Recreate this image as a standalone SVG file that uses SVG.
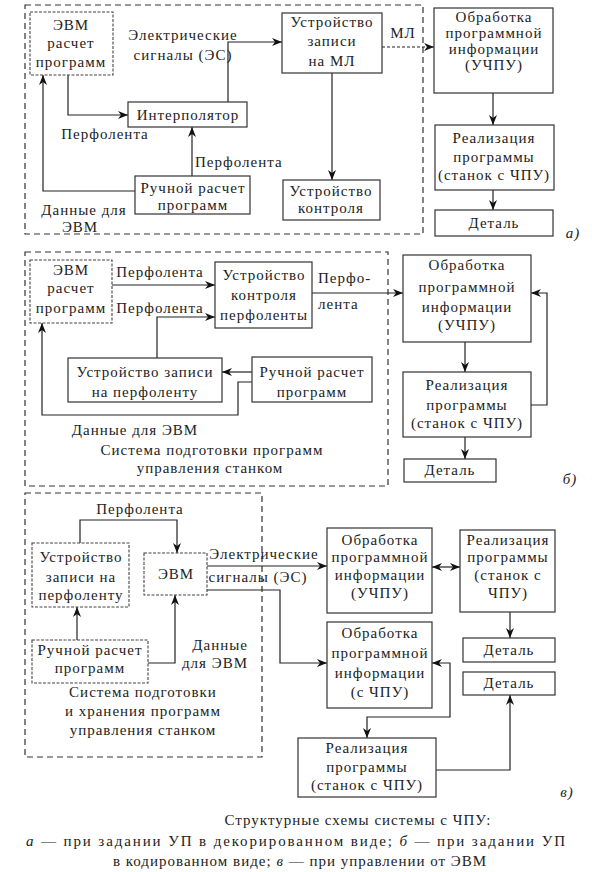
<svg xmlns="http://www.w3.org/2000/svg" width="592" height="872" viewBox="0 0 592 872">
<style>
.box{fill:#fff;stroke:#333;stroke-width:1.2}
.dbox{fill:#fff;stroke:#444;stroke-width:1.1;stroke-dasharray:3 1.5}
.frame{fill:none;stroke:#333;stroke-width:1.2;stroke-dasharray:6 4}
.ln{fill:none;stroke:#222;stroke-width:1.2}
.dt{stroke-dasharray:3 2}
.a{marker-end:url(#ah)}
.b{marker-start:url(#ah);marker-end:url(#ah)}
text{font-family:"Liberation Serif","DejaVu Serif","Times New Roman",serif;font-size:15px;fill:#222;letter-spacing:1px}
.c{text-anchor:middle}
.e{text-anchor:end}
.i{font-style:italic}
</style>
<defs>
<marker id="ah" viewBox="0 0 10 8" refX="10" refY="4" markerWidth="11" markerHeight="8" orient="auto-start-reverse" markerUnits="userSpaceOnUse"><path d="M0,0 L10,4 L0,8 L3,4 z" fill="#111"/></marker>
</defs>
<rect width="592" height="872" fill="#fff"/>

<g id="frames">
<rect class="frame" x="25" y="5" width="398" height="229"/>
<rect class="frame" x="25" y="252" width="363" height="234"/>
<rect class="frame" x="25" y="493" width="237" height="264"/>
</g>

<g id="connectors">
<path class="ln a" d="M68,75 V115 H128"/>
<path class="ln a" d="M228,102 V42 H282"/>
<path class="ln a dt" d="M382,47 H434"/>
<path class="ln a" d="M332,73 V180"/>
<path class="ln a" d="M493,93 V125"/>
<path class="ln a" d="M493,190 V210"/>
<path class="ln a" d="M192,176 V127"/>
<path class="ln a" d="M135,191 H43 V75"/>

<path class="ln a" d="M112,285 H215"/>
<path class="ln a" d="M157,358 V317 H215"/>
<path class="ln a" d="M312,293 H403"/>
<path class="ln a" d="M465,342 V372"/>
<path class="ln a" d="M531,405 H547 V293 H531"/>
<path class="ln a" d="M465,437 V459"/>
<path class="ln a" d="M252,372 H222"/>
<path class="ln a" d="M252,382 H238 V415 H42 V323"/>

<path class="ln a" d="M80,543 V520 H177 V553"/>
<path class="ln a" d="M207,566 H327"/>
<path class="ln a" d="M207,590 H280 V663 H327"/>
<path class="ln b" d="M432,567 H460"/>
<path class="ln a" d="M510,612 V638"/>
<path class="ln b" d="M432,663 H450 V717 H367 V738"/>
<path class="ln a" d="M436,770 H510 V695"/>
<path class="ln a" d="M77,640 V607"/>
<path class="ln a" d="M148,663 H175 V595"/>
</g>

<g id="labels">
<text class="c" x="183" y="40">Электрические</text>
<text class="c" x="183" y="60">сигналы (ЭС)</text>
<text class="c" x="403" y="38">МЛ</text>
<text class="c" x="105" y="139">Перфолента</text>
<text x="195" y="167">Перфолента</text>
<text class="c" x="84" y="215">Данные для</text>
<text class="c" x="80" y="232">ЭВМ</text>
<text class="c i" x="573" y="238">а)</text>

<text class="c" x="160" y="277">Перфолента</text>
<text class="c" x="160" y="313">Перфолента</text>
<text x="318" y="283">Перфо-</text>
<text x="318" y="309">лента</text>
<text class="c" x="135" y="435">Данные для ЭВМ</text>
<text class="c" x="212" y="455">Система подготовки программ</text>
<text class="c" x="210" y="473">управления станком</text>
<text class="c i" x="570" y="484">б)</text>

<text class="c" x="140" y="514">Перфолента</text>
<text class="c" x="264" y="559">Электрические</text>
<text class="c" x="258" y="582">сигналы (ЭС)</text>
<text class="e" x="248" y="650">Данные</text>
<text class="e" x="248" y="668">для ЭВМ</text>
<text class="c" x="143" y="697">Система подготовки</text>
<text class="c" x="143" y="716">и хранения программ</text>
<text class="c" x="143" y="735">управления станком</text>
<text class="c i" x="567" y="797">в)</text>
</g>

<g id="nodes">
<g id="a_evm"><rect class="dbox" x="30" y="12" width="83" height="63"/>
<text class="c" x="71" y="30">ЭВМ</text><text class="c" x="71" y="48">расчет</text><text class="c" x="71" y="67">программ</text></g>
<g id="a_interp"><rect class="box" x="128" y="102" width="119" height="25"/>
<text class="c" x="188" y="120">Интерполятор</text></g>
<g id="a_zap"><rect class="box" x="282" y="13" width="100" height="60"/>
<text class="c" x="332" y="27">Устройство</text><text class="c" x="332" y="46">записи</text><text class="c" x="332" y="66">на МЛ</text></g>
<g id="a_obr"><rect class="box" x="434" y="8" width="119" height="85"/>
<text class="c" x="494" y="22">Обработка</text><text class="c" x="494" y="38">программной</text><text class="c" x="494" y="54">информации</text><text class="c" x="494" y="70">(УЧПУ)</text></g>
<g id="a_real"><rect class="box" x="435" y="125" width="119" height="65"/>
<text class="c" x="494" y="143">Реализация</text><text class="c" x="494" y="162">программы</text><text class="c" x="494" y="180">(станок с ЧПУ)</text></g>
<g id="a_det"><rect class="box" x="435" y="210" width="118" height="26"/>
<text class="c" x="494" y="228">Деталь</text></g>
<g id="a_ctrl"><rect class="box" x="283" y="180" width="97" height="40"/>
<text class="c" x="331" y="196">Устройство</text><text class="c" x="331" y="213">контроля</text></g>
<g id="a_ruch"><rect class="box" x="135" y="176" width="115" height="38"/>
<text class="c" x="193" y="193">Ручной расчет</text><text class="c" x="193" y="210">программ</text></g>

<g id="b_evm"><rect class="dbox" x="30" y="260" width="82" height="63"/>
<text class="c" x="71" y="275">ЭВМ</text><text class="c" x="71" y="293">расчет</text><text class="c" x="71" y="313">программ</text></g>
<g id="b_ctrl"><rect class="box" x="215" y="262" width="97" height="66"/>
<text class="c" x="264" y="280">Устройство</text><text class="c" x="264" y="300">контроля</text><text class="c" x="264" y="320">перфоленты</text></g>
<g id="b_obr"><rect class="box" x="403" y="255" width="128" height="87"/>
<text class="c" x="467" y="270">Обработка</text><text class="c" x="467" y="292">программной</text><text class="c" x="467" y="312">информации</text><text class="c" x="467" y="330">(УЧПУ)</text></g>
<g id="b_real"><rect class="box" x="403" y="372" width="128" height="65"/>
<text class="c" x="467" y="390">Реализация</text><text class="c" x="467" y="410">программы</text><text class="c" x="467" y="428">(станок с ЧПУ)</text></g>
<g id="b_det"><rect class="box" x="404" y="459" width="92" height="23"/>
<text class="c" x="450" y="475">Деталь</text></g>
<g id="b_zap"><rect class="box" x="68" y="358" width="154" height="44"/>
<text class="c" x="145" y="377">Устройство записи</text><text class="c" x="145" y="397">на перфоленту</text></g>
<g id="b_ruch"><rect class="box" x="252" y="357" width="120" height="45"/>
<text class="c" x="312" y="377">Ручной расчет</text><text class="c" x="312" y="397">программ</text></g>

<g id="c_zap"><rect class="dbox" x="32" y="543" width="97" height="64"/>
<text class="c" x="81" y="562">Устройство</text><text class="c" x="81" y="582">записи на</text><text class="c" x="81" y="600">перфоленту</text></g>
<g id="c_evm"><rect class="dbox" x="144" y="553" width="63" height="42"/>
<text class="c" x="176" y="579">ЭВМ</text></g>
<g id="c_obr1"><rect class="box" x="327" y="528" width="105" height="85"/>
<text class="c" x="380" y="545">Обработка</text><text class="c" x="380" y="562">программной</text><text class="c" x="380" y="580">информации</text><text class="c" x="380" y="598">(УЧПУ)</text></g>
<g id="c_real1"><rect class="box" x="460" y="530" width="95" height="82"/>
<text class="c" x="508" y="545">Реализация</text><text class="c" x="508" y="562">программы</text><text class="c" x="508" y="580">(станок с</text><text class="c" x="508" y="598">ЧПУ)</text></g>
<g id="c_det1"><rect class="box" x="463" y="638" width="92" height="24"/>
<text class="c" x="509" y="655">Деталь</text></g>
<g id="c_det2"><rect class="box" x="463" y="672" width="92" height="23"/>
<text class="c" x="509" y="688">Деталь</text></g>
<g id="c_obr2"><rect class="box" x="327" y="622" width="105" height="86"/>
<text class="c" x="380" y="638">Обработка</text><text class="c" x="380" y="658">программной</text><text class="c" x="380" y="678">информации</text><text class="c" x="380" y="697">(с ЧПУ)</text></g>
<g id="c_real2"><rect class="box" x="298" y="738" width="138" height="59"/>
<text class="c" x="367" y="753">Реализация</text><text class="c" x="367" y="772">программы</text><text class="c" x="367" y="790">(станок с ЧПУ)</text></g>
<g id="c_ruch"><rect class="dbox" x="32" y="640" width="116" height="43"/>
<text class="c" x="90" y="655">Ручной расчет</text><text class="c" x="90" y="673">программ</text></g>
</g>

<g id="caption">
<text class="c" x="358" y="825">Структурные схемы системы с ЧПУ:</text>
<text class="c" x="296" y="846" textLength="540" lengthAdjust="spacing"><tspan class="i">а</tspan> — при задании УП в декорированном виде; <tspan class="i">б</tspan> — при задании УП</text>
<text class="c" x="300" y="866">в кодированном виде; <tspan class="i">в</tspan> — при управлении от ЭВМ</text>
</g>
</svg>
